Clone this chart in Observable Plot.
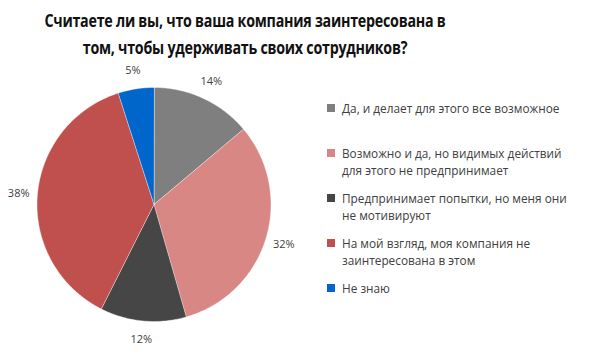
<!DOCTYPE html>
<html><head><meta charset="utf-8">
<script src="https://cdn.jsdelivr.net/npm/d3@7"></script>
<script src="https://cdn.jsdelivr.net/npm/@observablehq/plot@0.6"></script>
<style>
body{margin:0;background:#fff;}
#wrap{position:relative;width:600px;height:358px;overflow:hidden;font-family:"Open Sans",sans-serif;}
#title{position:absolute;left:0;top:7px;width:490px;text-align:center;font-weight:bold;font-size:17px;line-height:27px;color:#111;letter-spacing:-0.3px;transform:scaleX(0.84);transform-origin:245px 0;}
#pie{position:absolute;left:0;top:59px;}
#legend{position:absolute;left:327px;top:0;font-size:11.8px;color:#404040;}
.item{position:absolute;left:0;width:270px;line-height:17px;padding-left:15px;}
.sw{position:absolute;left:0;top:4px;width:8px;height:8px;}
</style>
</head><body>
<div id="wrap">
<div id="title">Считаете ли вы, что ваша компания заинтересована в<br>том, чтобы удерживать своих сотрудников?</div>
<div id="pie"></div>
<div id="legend"></div>
</div>
<script>
const categories = [
  "Да, и делает для этого все возможное",
  "Возможно и да, но видимых действий для этого не предпринимает",
  "Предпринимает попытки, но меня они не мотивируют",
  "На мой взгляд, моя компания не заинтересована в этом",
  "Не знаю"
];
const legendLines = [
  ["Да, и делает для этого все возможное"],
  ["Возможно и да, но видимых действий", "для этого не предпринимает"],
  ["Предпринимает попытки, но меня они", "не мотивируют"],
  ["На мой взгляд, моя компания не", "заинтересована в этом"],
  ["Не знаю"]
];
const values = [14, 32, 12, 38, 5];
const valueLabels = ["14%", "32%", "12%", "38%", "5%"];
const colors = ["#7f7f7f", "#d98784", "#464646", "#c0504d", "#0066cc"];

const R = 117, W = 307, H = 290;
const total = d3.sum(values);
const slicePts = [];
const labelPts = [];
let acc = 0;
values.forEach((v, i) => {
  const a0 = acc / total * 2 * Math.PI;
  acc += v;
  const a1 = acc / total * 2 * Math.PI;
  slicePts.push({cat: categories[i], x: 0, y: 0});
  const n = Math.max(2, Math.ceil((a1 - a0) / 0.02));
  for (let k = 0; k <= n; k++) {
    const a = a0 + (a1 - a0) * k / n;
    slicePts.push({cat: categories[i], x: Math.sin(a), y: Math.cos(a)});
  }
  const am = (a0 + a1) / 2;
  labelPts.push({cat: categories[i], text: valueLabels[i], x: 1.16 * Math.sin(am), y: 1.16 * Math.cos(am)});
});

const chart = Plot.plot({
  width: W, height: H, margin: 0,
  x: {domain: [-(W / 2) / R, (W / 2) / R], axis: null},
  y: {domain: [-(H / 2) / R, (H / 2) / R], axis: null},
  color: {domain: categories, range: colors},
  style: {fontFamily: "Open Sans, sans-serif", background: "transparent"},
  marks: [
    Plot.line(slicePts, {x: "x", y: "y", z: "cat", fill: "cat", stroke: "#ffffff", strokeWidth: 0.4, curve: "linear-closed"}),
    Plot.text(labelPts, {x: "x", y: "y", text: "text", fontSize: 11, fill: "#404040"})
  ]
});
document.getElementById("pie").appendChild(chart);

const legendTops = [100, 145, 190, 235, 280];
const leg = document.getElementById("legend");
legendLines.forEach((lines, i) => {
  const d = document.createElement("div");
  d.className = "item";
  d.style.top = legendTops[i] + "px";
  d.innerHTML = `<span class="sw" style="background:${colors[i]}"></span>` + lines.join("<br>");
  leg.appendChild(d);
});
</script>
</body></html>
